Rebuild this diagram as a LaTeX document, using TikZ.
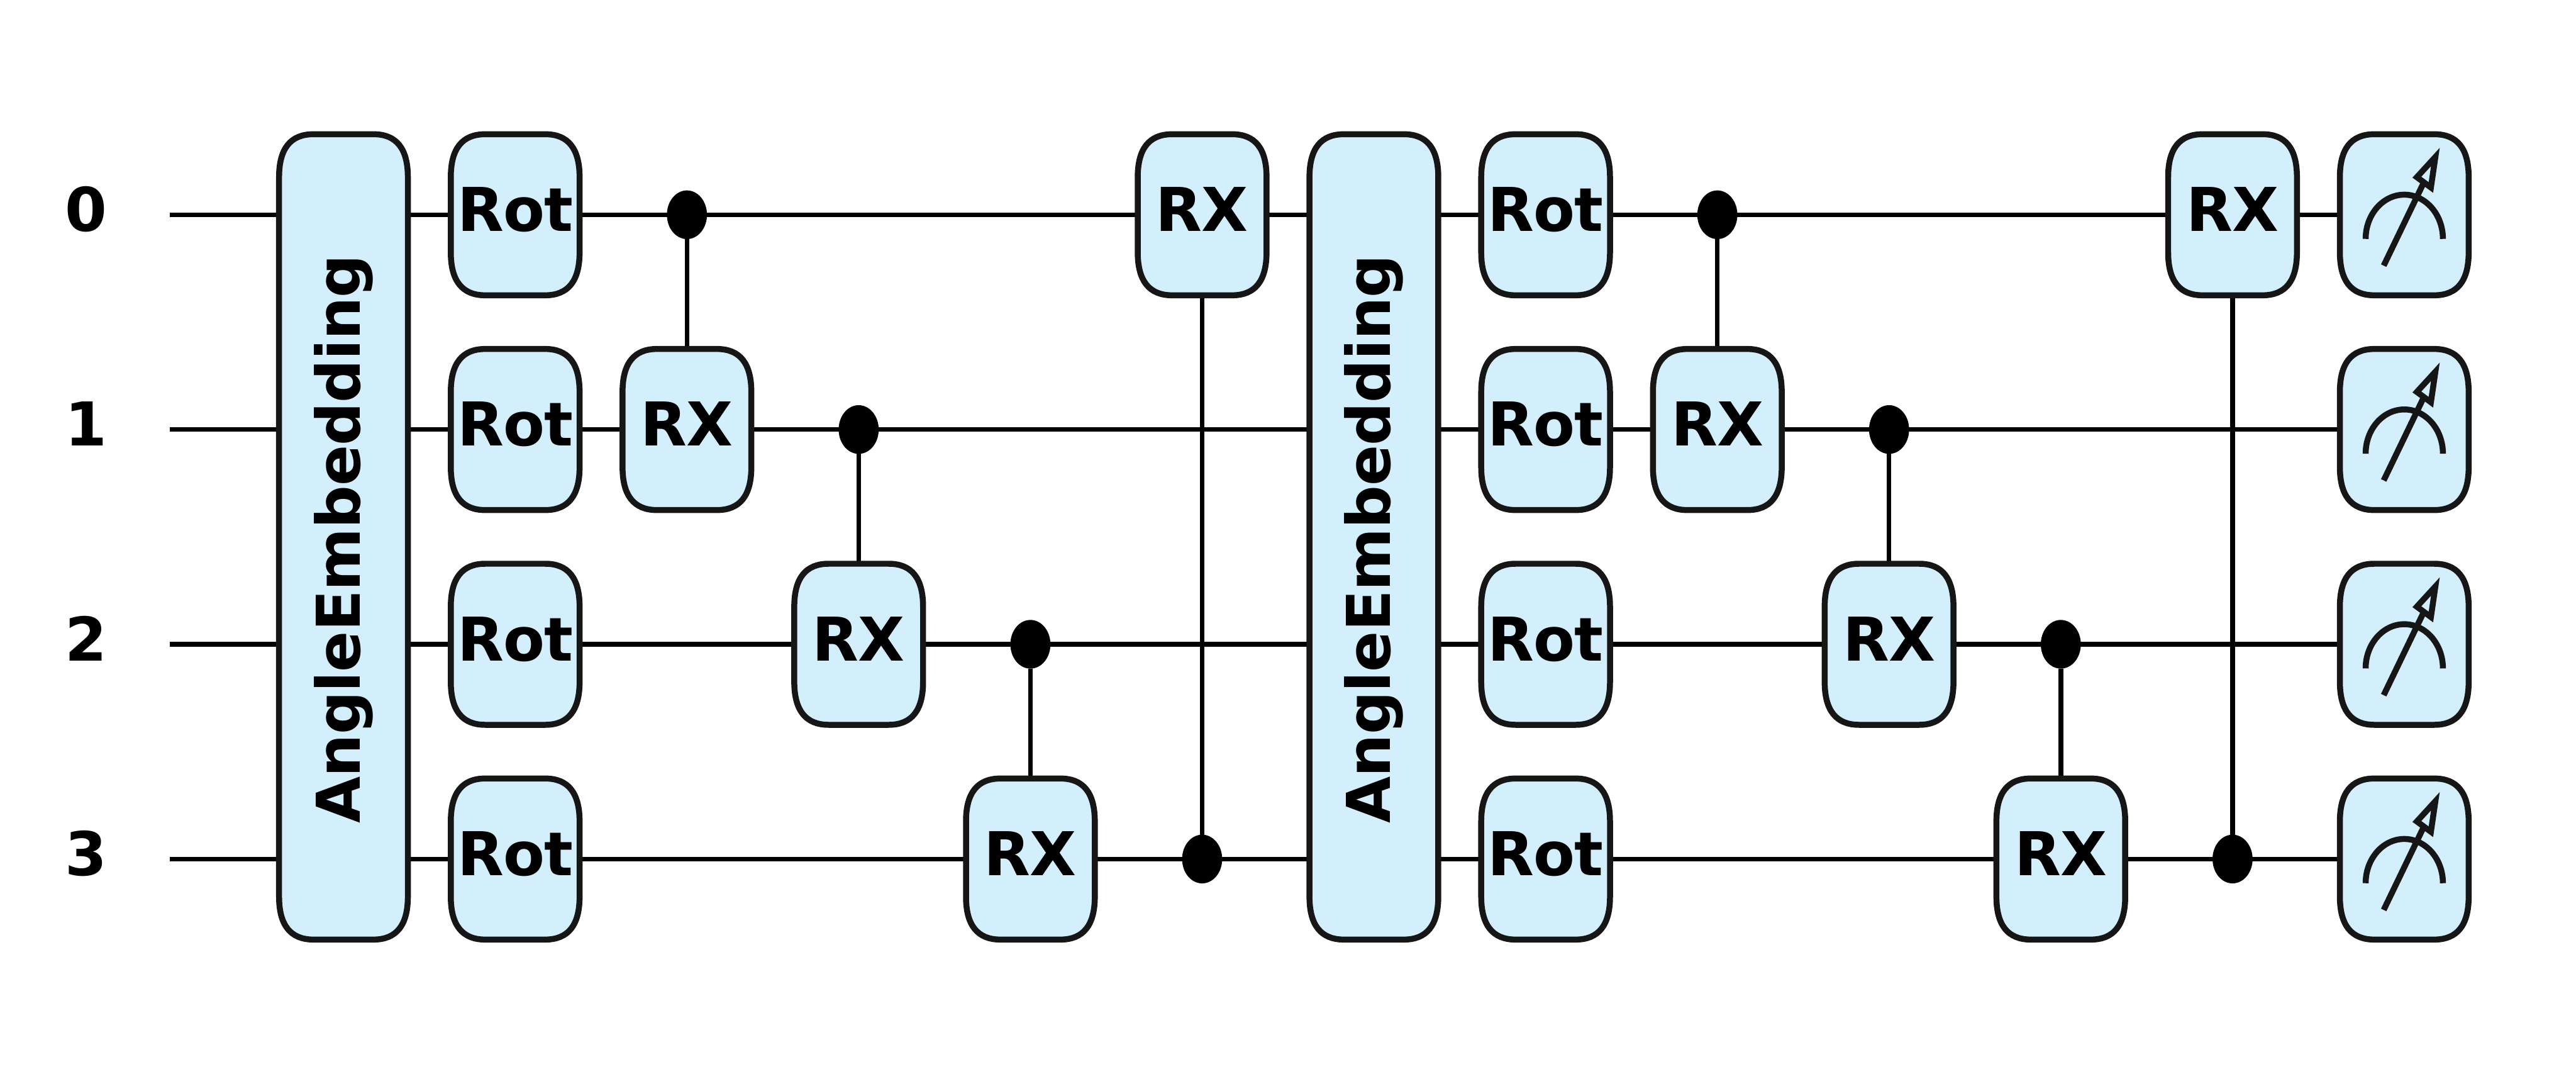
\documentclass[tikz,border=0pt]{standalone}
\usepackage{fontspec}
\setmainfont{DejaVu Sans}
\usetikzlibrary{backgrounds,shapes.geometric}
\definecolor{gatefill}{RGB}{211,239,252}
\definecolor{gateedge}{RGB}{22,22,22}
\tikzset{
  gateline/.style={draw=gateedge,line width=4bp,fill=gatefill},
  iconline/.style={draw=gateedge,line width=4bp},
  wire/.style={draw=black,line width=3.12bp},
  gate/.style={inner sep=0pt,outer sep=0pt,minimum width=86.4bp,minimum height=108bp,text height=29.5bp,text depth=7.44bp,font=\fontsize{40.65}{48}\selectfont\bfseries\addfontfeature{LetterSpace=-1}},
  control/.style={ellipse,fill=black,inner sep=0pt,outer sep=0pt,minimum width=26.88bp,minimum height=32.64bp},
}
\newcommand{\boxoutline}[3]{\draw[gateline,shift={(#1,#2)}] (-0.175,-#3) -- (0.175,-#3) .. controls (0.3083,-#3) and (0.375,{-#3+0.0667}) .. (0.375,{-#3+0.2}) -- (0.375,{#3-0.2}) .. controls (0.375,{#3-0.0667}) and (0.3083,#3) .. (0.175,#3) -- (-0.175,#3) .. controls (-0.3083,#3) and (-0.375,{#3-0.0667}) .. (-0.375,{#3-0.2}) -- (-0.375,{-#3+0.2}) .. controls (-0.375,{-#3+0.0667}) and (-0.3083,-#3) .. (-0.175,-#3) -- cycle;}
\newcommand{\gatebox}[4]{\boxoutline{#2}{#3}{0.375}
  \node[gate] (#1) at (#2,#3) {#4};}
\newcommand{\embedbox}[2]{\boxoutline{#2}{1.5}{1.875}
  \node[gate,rotate=90,minimum width=540bp] (#1) at (#2,1.51) {AngleEmbedding};}
\newcommand{\measbox}[3]{\boxoutline{#2}{#3}{0.375}
  \node[gate] (#1) at (#2,#3) {};
  \draw[iconline,shift={(#2,#3)}] (-0.225,0.1125) arc[start angle=180,end angle=360,x radius=0.225,y radius=0.206];
  \draw[iconline,shift={(#2,#3)}] (-0.12,0.237) -- (0.114,-0.151);
  \draw[iconline,shift={(#2,#3)}] (0.181,-0.269) -- (0.0733,-0.175) -- (0.155,-0.127) -- cycle;}
\begin{document}
\begin{tikzpicture}[x={(115.2bp,0bp)},y={(0bp,-144bp)}]
\useasboundingbox (-2,-1) rectangle (13,4);
\node[gate,minimum width=0pt,minimum height=0pt] (lab0) at (-1.5,0) {0};
\node[gate,minimum width=0pt,minimum height=0pt] (lab1) at (-1.5,1) {1};
\node[gate,minimum width=0pt,minimum height=0pt] (lab2) at (-1.5,2) {2};
\node[gate,minimum width=0pt,minimum height=0pt] (lab3) at (-1.5,3) {3};
\coordinate (start0) at (-1.0125,0);
\coordinate (start1) at (-1.0125,1);
\coordinate (start2) at (-1.0125,2);
\coordinate (start3) at (-1.0125,3);
\embedbox{embed0}{0}
\gatebox{rot00}{1}{0}{Rot}
\gatebox{rot01}{1}{1}{Rot}
\gatebox{rot02}{1}{2}{Rot}
\gatebox{rot03}{1}{3}{Rot}
\gatebox{rx01}{2}{1}{RX}
\gatebox{rx02}{3}{2}{RX}
\gatebox{rx03}{4}{3}{RX}
\gatebox{rx00}{5}{0}{RX}
\node[control] (ctrl00) at (2,0) {};
\node[control] (ctrl01) at (3,1) {};
\node[control] (ctrl02) at (4,2) {};
\node[control] (ctrl03) at (5,3) {};
\embedbox{embed1}{6}
\gatebox{rot10}{7}{0}{Rot}
\gatebox{rot11}{7}{1}{Rot}
\gatebox{rot12}{7}{2}{Rot}
\gatebox{rot13}{7}{3}{Rot}
\gatebox{rx11}{8}{1}{RX}
\gatebox{rx12}{9}{2}{RX}
\gatebox{rx13}{10}{3}{RX}
\gatebox{rx10}{11}{0}{RX}
\node[control] (ctrl10) at (8,0) {};
\node[control] (ctrl11) at (9,1) {};
\node[control] (ctrl12) at (10,2) {};
\node[control] (ctrl13) at (11,3) {};
\measbox{meas0}{12}{0}
\measbox{meas1}{12}{1}
\measbox{meas2}{12}{2}
\measbox{meas3}{12}{3}
\begin{scope}[on background layer]
\draw[wire] (start0) -- (meas0);
\draw[wire] (start1) -- (meas1);
\draw[wire] (start2) -- (meas2);
\draw[wire] (start3) -- (meas3);
\draw[wire] (ctrl00) -- (rx01);
\draw[wire] (ctrl01) -- (rx02);
\draw[wire] (ctrl02) -- (rx03);
\draw[wire] (ctrl03) -- (rx00);
\draw[wire] (ctrl10) -- (rx11);
\draw[wire] (ctrl11) -- (rx12);
\draw[wire] (ctrl12) -- (rx13);
\draw[wire] (ctrl13) -- (rx10);
\end{scope}
\end{tikzpicture}
\end{document}
